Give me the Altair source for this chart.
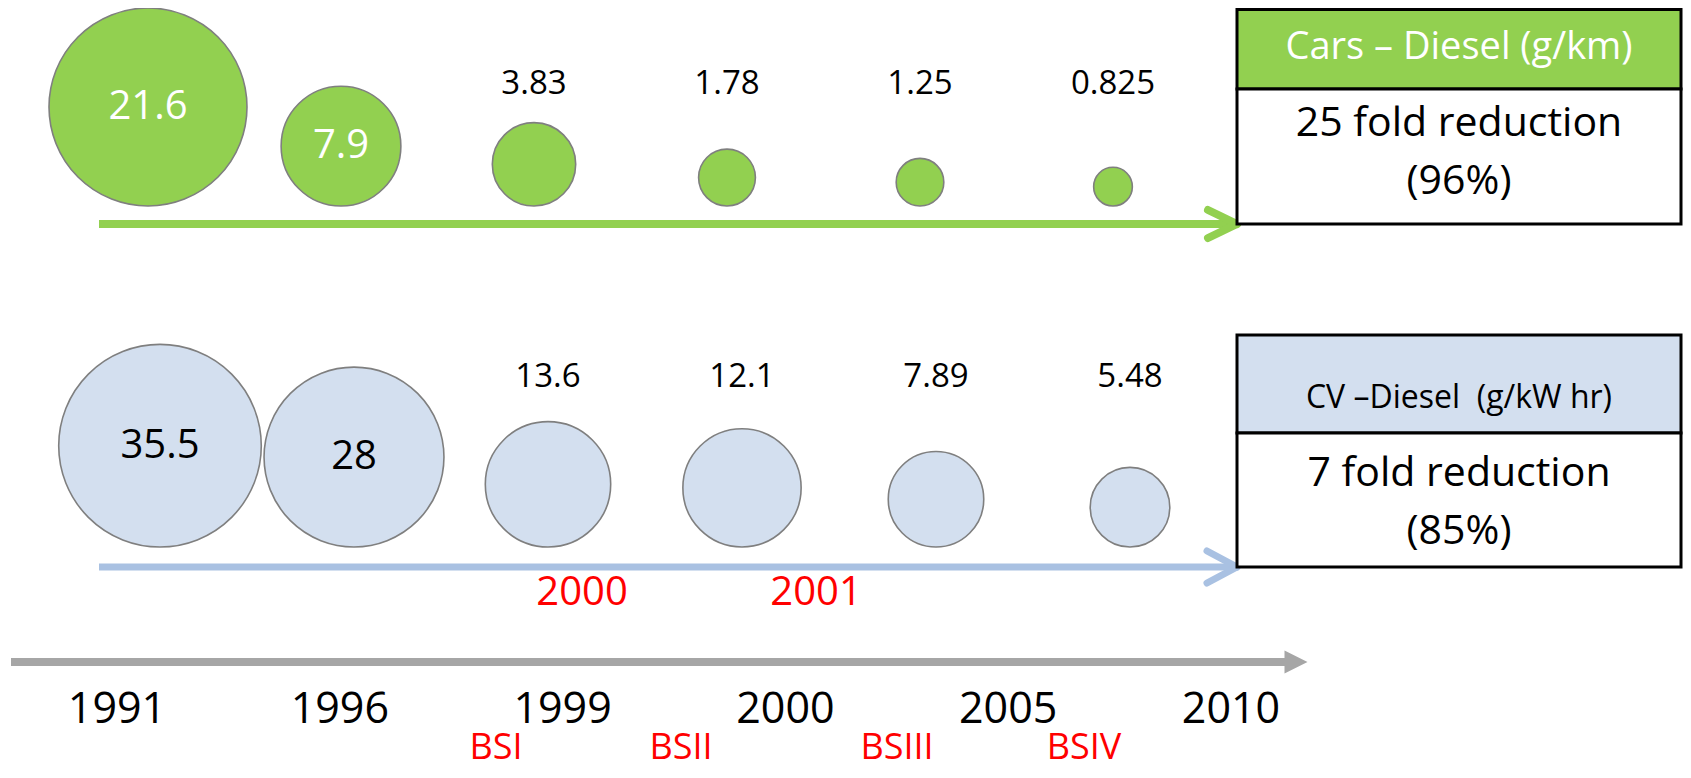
import altair as alt
import pandas as pd

# ---------------- data ----------------
years = ["1991", "1996", "1999", "2000", "2005", "2010"]
cars_diesel = [21.6, 7.9, 3.83, 1.78, 1.25, 0.825]   # g/km
cv_diesel = [35.5, 28, 13.6, 12.1, 7.89, 5.48]       # g/kW hr
stages = ["BSI", "BSII", "BSIII", "BSIV"]
cv_stage_years = ["2000", "2001"]
cars_title = "Cars – Diesel (g/km)"
cars_note = ["25 fold reduction", "(96%)"]
cv_title = "CV –Diesel\u00a0 (g/kW hr)"
cv_note = ["7 fold reduction", "(85%)"]

# ---------------- style ----------------
W, H = 1675, 762
FONT = "Open Sans"
GREEN = "#92D050"
BLUE_FILL = "#D3DFEF"
BLUE_LINE = "#A9C1E2"
GREY = "#A6A6A6"
RED = "#FF0000"
STROKE = "#7F7F7F"

ys = alt.Scale(domain=[0, H], reverse=True, nice=False, zero=False)


def slot_scale(p0, step):
    d0 = -p0 / step
    return alt.Scale(domain=[d0, d0 + W / step], nice=False, zero=False)


def bubble_row(values, k, base, p0, step, fill, inside_color, out_y):
    df = pd.DataFrame({
        "slot": list(range(len(values))),
        "year": years,
        "value": values,
        "label": [f"{v:g}" for v in values],
    })
    xs = slot_scale(p0, step)
    vmax = max(values)
    base_chart = alt.Chart(df).transform_calculate(
        cy=f"{base} - {k} * sqrt(datum.value)"
    )
    circles = base_chart.mark_circle(
        fill=fill, stroke=STROKE, strokeWidth=1.6, opacity=1
    ).encode(
        x=alt.X("slot:Q", scale=xs, axis=None),
        y=alt.Y("cy:Q", scale=ys, axis=None),
        size=alt.Size("value:Q", scale=alt.Scale(domain=[0, vmax], range=[0, 4 * k * k * vmax]), legend=None),
    )
    inside = base_chart.transform_filter("datum.slot < 2").mark_text(
        font=FONT, fontSize=40, color=inside_color, align="center", baseline="middle"
    ).encode(
        x=alt.X("slot:Q", scale=xs, axis=None),
        y=alt.Y("cy:Q", scale=ys, axis=None),
        text="label:N",
    )
    outside = base_chart.transform_filter("datum.slot >= 2").mark_text(
        font=FONT, fontSize=33, color="#000000", align="center", baseline="middle"
    ).encode(
        x=alt.X("slot:Q", scale=xs, axis=None),
        y=alt.value(out_y),
        text="label:N",
    )
    return alt.layer(circles, inside, outside)


def line(x1, y1, x2, y2, color, width, cap="round"):
    return alt.Chart().mark_rule(color=color, strokeWidth=width, strokeCap=cap).encode(
        x=alt.value(x1), y=alt.value(y1), x2=alt.value(x2), y2=alt.value(y2)
    )


def box(x1, y1, x2, y2, fill):
    return alt.Chart().mark_rect(fill=fill, stroke="#000000", strokeWidth=3).encode(
        x=alt.value(x1), y=alt.value(y1), x2=alt.value(x2), y2=alt.value(y2)
    )


def label(text, x, y, size, color="#000000"):
    return alt.Chart().mark_text(
        text=text, font=FONT, fontSize=size, color=color, align="center", baseline="middle"
    ).encode(x=alt.value(x), y=alt.value(y))


# ---------------- decorations ----------------
decor = [
    # green arrow (cars)
    line(91, 216, 1226, 216, GREEN, 8, "butt"),
    line(1200, 202, 1229, 216, GREEN, 8),
    line(1200, 230, 1229, 216, GREEN, 8),
    # blue arrow (CV)
    line(91, 559, 1226, 559, BLUE_LINE, 7, "butt"),
    line(1199, 543, 1229, 559, BLUE_LINE, 7),
    line(1199, 575, 1229, 559, BLUE_LINE, 7),
    # grey time arrow
    line(3, 654, 1280, 654, GREY, 8, "butt"),
    alt.Chart().mark_point(
        shape="M-1,-1L1,0L-1,1Z", filled=True, fill=GREY, opacity=1, size=530, strokeWidth=0
    ).encode(x=alt.value(1288), y=alt.value(654)),
]

top_row = bubble_row(cars_diesel, 21.3, 198, 140, 193, GREEN, "#FFFFFF", 76)
bottom_row = bubble_row(cv_diesel, 17.0, 539, 152, 194, BLUE_FILL, "#000000", 369)

year_df = pd.DataFrame({"slot": list(range(len(years))), "year": years})
year_labels = alt.Chart(year_df).mark_text(
    font=FONT, fontSize=43, color="#000000", align="center", baseline="middle"
).encode(
    x=alt.X("slot:Q", scale=slot_scale(109, 222.8), axis=None),
    y=alt.value(702),
    text="year:N",
)

stage_x = [488, 673, 889, 1076]
stage_labels = [label(s, x, 740, 36, RED) for s, x in zip(stages, stage_x)]
cv_year_x = [574, 808]
cv_year_labels = [label(s, x, 585, 40, RED) for s, x in zip(cv_stage_years, cv_year_x)]

boxes = [
    box(1229, 1.5, 1673, 81, GREEN),
    box(1229, 81, 1673, 216, "#FFFFFF"),
    box(1229, 327, 1673, 425, BLUE_FILL),
    box(1229, 425, 1673, 559, "#FFFFFF"),
    label(cars_title, 1451, 40, 38, "#FFFFFF"),
    label(cars_note[0], 1451, 116, 41),
    label(cars_note[1], 1451, 174, 41),
    label(cv_title, 1451, 390, 32),
    label(cv_note[0], 1451, 466, 41),
    label(cv_note[1], 1451, 524, 41),
]

chart = alt.layer(
    *decor, top_row, bottom_row, year_labels,
    *stage_labels, *cv_year_labels, *boxes
).resolve_scale(x="independent", size="independent").properties(
    width=W, height=H, padding=0, autosize=alt.AutoSizeParams(type="none")
).configure_view(stroke=None)

chart.save("out.html", embed_options={"renderer": "svg", "actions": False})
